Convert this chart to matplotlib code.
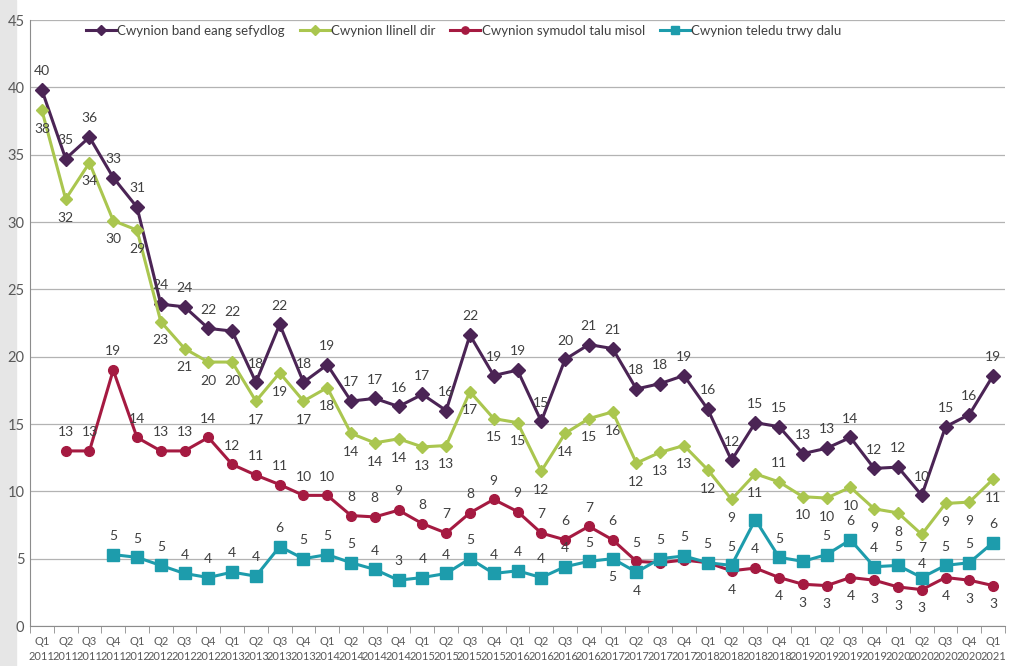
import matplotlib
matplotlib.use("Agg")
import matplotlib.pyplot as plt
import numpy as np

plt.rcParams['font.family'] = ['Lato', 'DejaVu Sans']

# quarters Q1 2011 .. Q1 2021
quarters = []
for yr in range(2011, 2022):
    for q in range(1, 5):
        quarters.append('Q%d\n%d' % (q, yr))
quarters = quarters[:41]

nan = np.nan

band_eang = [39.8, 34.7, 36.3, 33.3, 31.1, 23.9, 23.7, 22.1, 21.9, 18.1,
             22.4, 18.1, 19.4, 16.7, 16.9, 16.3, 17.2, 16.0, 21.6, 18.6,
             19.0, 15.2, 19.8, 20.9, 20.6, 17.6, 18.0, 18.6, 16.1, 12.3,
             15.1, 14.8, 12.8, 13.2, 14.0, 11.7, 11.8, 9.7, 14.8, 15.7, 18.6]

llinell_dir = [38.3, 31.7, 34.4, 30.1, 29.4, 22.6, 20.6, 19.6, 19.6, 16.7,
               18.8, 16.7, 17.7, 14.3, 13.6, 13.9, 13.3, 13.4, 17.4, 15.4,
               15.1, 11.5, 14.3, 15.4, 15.9, 12.1, 12.9, 13.4, 11.6, 9.4,
               11.3, 10.7, 9.6, 9.5, 10.3, 8.7, 8.4, 6.8, 9.1, 9.2, 10.9]

symudol = [nan, 13.0, 13.0, 19.0, 14.0, 13.0, 13.0, 14.0, 12.0, 11.2,
           10.5, 9.7, 9.7, 8.2, 8.1, 8.6, 7.6, 6.9, 8.4, 9.4,
           8.5, 6.9, 6.4, 7.4, 6.4, 4.8, 4.7, 4.9, 4.7, 4.1,
           4.3, 3.6, 3.1, 3.0, 3.6, 3.4, 2.9, 2.7, 3.6, 3.4, 3.0]

teledu = [nan, nan, nan, 5.3, 5.1, 4.5, 3.9, 3.6, 4.0, 3.7,
          5.9, 5.0, 5.3, 4.7, 4.2, 3.4, 3.6, 3.9, 5.0, 3.9,
          4.1, 3.6, 4.4, 4.8, 5.0, 4.0, 5.0, 5.2, 4.7, 4.5,
          7.9, 5.1, 4.8, 5.3, 6.4, 4.4, 4.5, 3.6, 4.5, 4.7, 6.2]

series_names = ['Cwynion band eang sefydlog', 'Cwynion llinell dir',
                'Cwynion symudol talu misol', 'Cwynion teledu trwy dalu']

# label placement: +1 above, -1 below, 0 hidden (labels hidden in the original)
pos_band = [1] * 41
pos_llinell = [-1] * 41
pos_llinell[31] = 1
pos_llinell[37] = -0.75
pos_symudol = [1] * 29 + [-1] * 12
pos_symudol[30] = 1
pos_symudol[26] = 0
pos_symudol[27] = 0
pos_symudol[28] = 0
pos_teledu = [1] * 41
pos_teledu[24] = -1
pos_teledu[25] = -1
pos_teledu[30] = 0
pos_teledu[32] = 0
pos_teledu[37] = 0.7

fig = plt.figure(figsize=(10.12, 6.66), dpi=100)
fig.patches.append(plt.Rectangle((0, 0), 16/1012, 1, transform=fig.transFigure,
                                 color='#e6e6e6', zorder=-5))
ax = fig.add_axes([30/1012, 40/666, 975/1012, 606/666])

x = np.arange(len(quarters))
styles = [
    (band_eang, '#4b2455', 'D', 7, pos_band),
    (llinell_dir, '#aac64f', 'D', 6.5, pos_llinell),
    (symudol, '#a51a41', 'o', 7, pos_symudol),
    (teledu, '#1d9cac', 's', 8, pos_teledu),
]

for (vals, col, mk, ms, posl), name in zip(styles, series_names):
    vals = np.array(vals)
    ax.plot(x, vals, color=col, marker=mk, markersize=ms, linewidth=2.2,
            label=name, zorder=3)
    for i, v in enumerate(vals):
        if np.isnan(v) or posl[i] == 0:
            continue
        ax.annotate(str(int(v + 0.5)), (i, v), xytext=(0, 13.5 * posl[i]),
                    textcoords='offset points', ha='center', va='center',
                    fontsize=10, color='#404040', zorder=4)

ax.set_xlim(-0.5, 40.5)
ax.set_ylim(0, 45)
ax.set_yticks(np.arange(0, 46, 5))
ax.yaxis.grid(True, color='#b3b3b3', linewidth=0.9)
ax.set_axisbelow(True)
ax.set_xticks(x)
ax.set_xticklabels(quarters, fontsize=8, color='#595959', linespacing=1.5)
ax.set_xticks(np.arange(-0.5, 41, 1), minor=True)
ax.tick_params(axis='x', which='major', length=0, pad=7)
ax.tick_params(axis='x', which='minor', length=5, color='#8c8c8c', direction='out')
ax.tick_params(axis='y', length=0, labelsize=10.5, labelcolor='#595959', pad=4)

for s in ['top', 'right']:
    ax.spines[s].set_visible(False)
ax.spines['left'].set_color('#8c8c8c')
ax.spines['bottom'].set_color('#8c8c8c')

ax.legend(loc='center left', bbox_to_anchor=(0.045, 0.982), ncol=4,
          frameon=False, fontsize=9.5, handlelength=2.3, handletextpad=0.1,
          columnspacing=1.1, markerscale=0.75, labelcolor='#404040')

plt.savefig('out.png', dpi=100)
